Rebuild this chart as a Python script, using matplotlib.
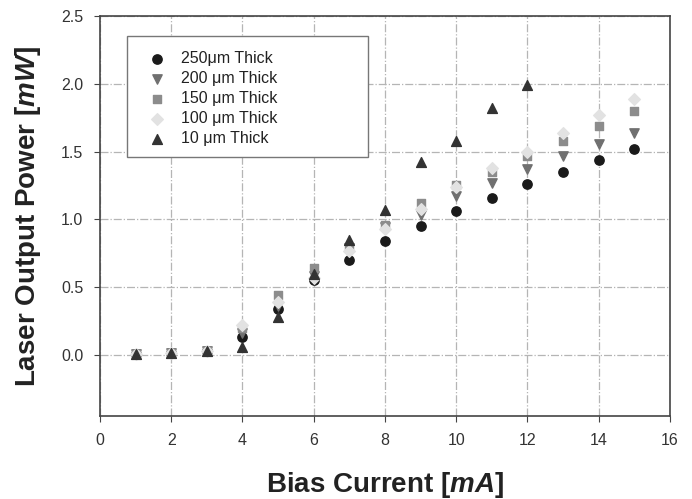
import matplotlib
matplotlib.use('Agg')
import matplotlib.pyplot as plt
from matplotlib.patches import Rectangle

plt.rcParams.update({
    'font.family': 'Liberation Sans',
    'mathtext.fontset': 'custom',
    'mathtext.it': 'Liberation Sans:bold:italic',
    'mathtext.rm': 'Liberation Sans:bold',
})

current = [1, 2, 3, 4, 5, 6, 7, 8, 9, 10, 11, 12, 13, 14, 15]
p250 = [0.01, 0.015, 0.03, 0.13, 0.34, 0.55, 0.70, 0.84, 0.95, 1.06, 1.16, 1.26, 1.35, 1.44, 1.52]
p200 = [0.01, 0.015, 0.03, 0.16, 0.36, 0.58, 0.79, 0.945, 1.03, 1.17, 1.27, 1.37, 1.47, 1.555, 1.64]
p150 = [0.01, 0.015, 0.03, 0.20, 0.44, 0.64, 0.80, 0.96, 1.12, 1.25, 1.35, 1.47, 1.58, 1.69, 1.80]
p100 = [0.01, 0.015, 0.03, 0.22, 0.39, 0.565, 0.77, 0.93, 1.08, 1.24, 1.38, 1.50, 1.64, 1.77, 1.89]
current_10 = [1, 2, 3, 4, 5, 6, 7, 8, 9, 10, 11, 12]
p10 = [0.01, 0.015, 0.03, 0.06, 0.28, 0.60, 0.85, 1.07, 1.42, 1.58, 1.82, 1.99]

labels = [u'250\u03bcm Thick', u'200 \u03bcm Thick', u'150 \u03bcm Thick',
          u'100 \u03bcm Thick', u'10 \u03bcm Thick']

fig = plt.figure(figsize=(6.92, 4.99), dpi=100)
ax = fig.add_axes([0.1445, 0.1663, 0.968 - 0.1445, 0.968 - 0.1663])

ax.scatter(current, p250, marker='o', s=45, color='#1a1a1a', label=labels[0], zorder=3)
ax.scatter(current, p200, marker='v', s=45, color='#707070', label=labels[1], zorder=3)
ax.scatter(current, p150, marker='s', s=40, color='#8c8c8c', label=labels[2], zorder=3)
ax.scatter(current, p100, marker='D', s=35, color='#e2e2e2', label=labels[3], zorder=3)
ax.scatter(current_10, p10, marker='^', s=50, color='#333333', label=labels[4], zorder=3)

ax.set_xlim(0, 16)
ax.set_ylim(-0.45, 2.5)
ax.set_xticks(range(0, 17, 2))
ax.set_yticks([0.0, 0.5, 1.0, 1.5, 2.0, 2.5])
ax.set_yticklabels(['0.0', '0.5', '1.0', '1.5', '2.0', '2.5'])
ax.tick_params(direction='out', length=4, color='#444444', labelsize=11.5,
               labelcolor='#333333', pad=8)

ax.grid(True, color='#b5b5b5', linestyle='-.', linewidth=0.9)
ax.set_axisbelow(True)
for side in ['left', 'bottom', 'right', 'top']:
    ax.spines[side].set_color('#444444')
    ax.spines[side].set_linewidth(1.2)

ax.set_xlabel(r'Bias Current $\mathit{[mA]}$', fontsize=20, fontweight='bold',
              color='#222222')
ax.set_ylabel(r'Laser Output Power $\mathit{[mW]}$', fontsize=20, fontweight='bold',
              color='#222222')
ax.xaxis.set_label_coords(0.5, -0.135)
ax.yaxis.set_label_coords(-0.1, 0.5)

# legend box (wider than the entries)
box = Rectangle((0.0474, 0.6475), 0.4226, 0.3025, transform=ax.transAxes,
                facecolor='white', edgecolor='#777777', linewidth=1.0, zorder=4)
ax.add_patch(box)
leg = ax.legend(loc='upper left', bbox_to_anchor=(0.086, 0.912), fontsize=11.5,
                frameon=False, borderpad=0, labelspacing=0.31, handlelength=1.0,
                handletextpad=1.0, borderaxespad=0, scatterpoints=1)
leg.set_zorder(5)
for t in leg.get_texts():
    t.set_color('#222222')

plt.savefig('out.png', dpi=100)
